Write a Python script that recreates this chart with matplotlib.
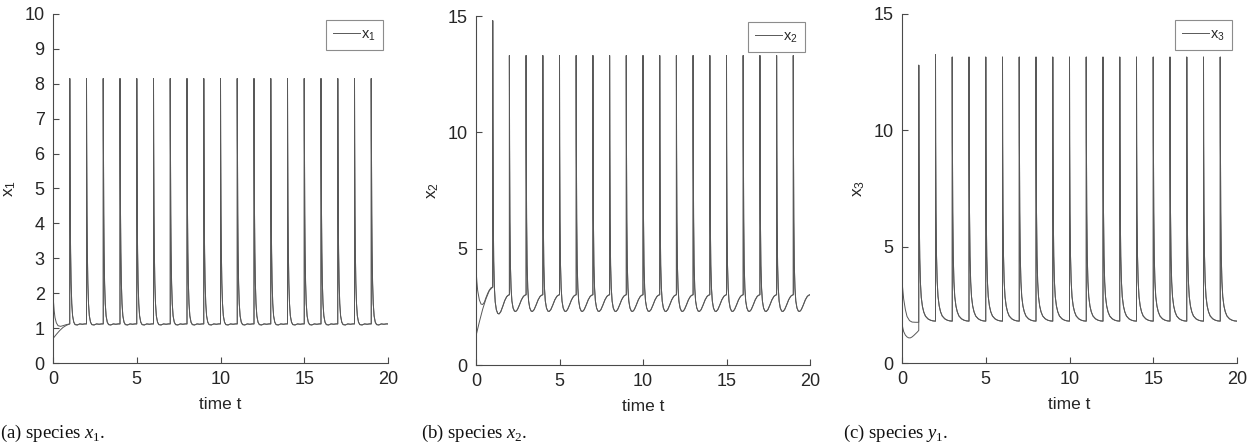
import numpy as np
import matplotlib
matplotlib.use("Agg")
import matplotlib.pyplot as plt

plt.rcParams['font.family'] = ['Liberation Sans', 'DejaVu Sans']
plt.rcParams['mathtext.fontset'] = 'custom'
plt.rcParams['mathtext.rm'] = 'Liberation Sans'
plt.rcParams['mathtext.it'] = 'Liberation Serif:italic'
plt.rcParams['mathtext.bf'] = 'Liberation Serif'
plt.rcParams['mathtext.default'] = 'rm'

# ---------------- data ----------------
spike_times = list(range(1, 20))          # impulses at t = 1..19, run ends at t = 20

# x1: one period after an impulse (offset within period, value)
x1_offsets = [0, 0.01, 0.03, 0.05, 0.08, 0.12, 0.17, 0.24, 0.32, 0.45, 0.6, 0.75, 0.9, 1.0]
x1_shape   = [8.15, 6.4, 4.3, 3.2, 2.3, 1.7, 1.35, 1.17, 1.10, 1.09, 1.12, 1.11, 1.12, 1.12]
x1_peaks   = [8.15] * 19
x1_initA_t = [0, 0.03, 0.07, 0.12, 0.2, 0.3, 0.45, 0.6, 0.8, 1.0]
x1_initA   = [2.0, 1.75, 1.5, 1.3, 1.15, 1.07, 1.05, 1.07, 1.1, 1.12]
x1_initB_t = [0, 0.2, 0.4, 0.6, 0.8, 1.0]
x1_initB   = [0.7, 0.82, 0.93, 1.02, 1.08, 1.12]

# x2
x2_offsets = [0, 0.01, 0.03, 0.06, 0.1, 0.15, 0.22, 0.3, 0.38, 0.48, 0.6, 0.72, 0.84, 0.93, 1.0]
x2_shape   = [13.3, 9.5, 6.3, 4.3, 3.3, 2.75, 2.45, 2.32, 2.3, 2.38, 2.58, 2.8, 2.95, 3.0, 3.02]
x2_peaks   = [14.8] + [13.3] * 18
x2_initA_t = [0, 0.05, 0.1, 0.2, 0.3, 0.4, 0.5, 0.6, 0.7, 0.8, 0.9, 1.0]
x2_initA   = [4.1, 3.6, 3.2, 2.8, 2.62, 2.6, 2.7, 2.9, 3.08, 3.22, 3.32, 3.35]
x2_initB_t = [0, 0.2, 0.4, 0.6, 0.8, 1.0]
x2_initB   = [1.25, 1.85, 2.4, 2.85, 3.2, 3.35]

# x3
x3_offsets = [0, 0.01, 0.03, 0.06, 0.1, 0.15, 0.22, 0.3, 0.4, 0.55, 0.7, 0.85, 1.0]
x3_shape   = [13.15, 9.5, 6.5, 4.6, 3.5, 2.85, 2.45, 2.2, 2.02, 1.9, 1.84, 1.81, 1.8]
x3_peaks   = [12.8, 13.25] + [13.15] * 17
x3_initA_t = [0, 0.05, 0.1, 0.2, 0.3, 0.45, 0.6, 0.8, 1.0]
x3_initA   = [3.5, 3.1, 2.75, 2.3, 2.0, 1.82, 1.76, 1.75, 1.75]
x3_initB_t = [0, 0.05, 0.1, 0.2, 0.3, 0.4, 0.5, 0.6, 0.7, 0.8, 0.9, 1.0]
x3_initB   = [1.7, 1.5, 1.35, 1.2, 1.12, 1.08, 1.08, 1.12, 1.18, 1.25, 1.32, 1.4]

panels = [
    dict(name='x$_1$', offs=x1_offsets, shape=x1_shape, peaks=x1_peaks,
         initA=(x1_initA_t, x1_initA), initB=(x1_initB_t, x1_initB),
         ylim=10, yticks=list(range(0, 11)), caption=r'(a) species $\mathit{x}_{\mathbf{1}}$.'),
    dict(name='x$_2$', offs=x2_offsets, shape=x2_shape, peaks=x2_peaks,
         initA=(x2_initA_t, x2_initA), initB=(x2_initB_t, x2_initB),
         ylim=15, yticks=[0, 5, 10, 15], caption=r'(b) species $\mathit{x}_{\mathbf{2}}$.'),
    dict(name='x$_3$', offs=x3_offsets, shape=x3_shape, peaks=x3_peaks,
         initA=(x3_initA_t, x3_initA), initB=(x3_initB_t, x3_initB),
         ylim=15, yticks=[0, 5, 10, 15], caption=r'(c) species $\mathit{y}_{\mathbf{1}}$.'),
]

W, H = 1259, 448
fig = plt.figure(figsize=(W / 100, H / 100), dpi=100)

ax_px = [(53, 388, 14, 363), (476, 810, 16, 365), (902, 1237, 14, 363)]
cap_x = [0, 421, 843]
line_col = '#585858'
txt_col = '#262626'

for p, (l, r, t, b), cx in zip(panels, ax_px, cap_x):
    ax = fig.add_axes([l / W, (H - b) / H, (r - l) / W, (b - t) / H])
    # build trajectories: initial part then impulsive periodic part
    def periodic(p):
        ts, vs = [], []
        for k, pk in zip(spike_times, p['peaks']):
            scale = (pk - p['shape'][-1]) / (p['shape'][0] - p['shape'][-1])
            for o, v in zip(p['offs'], p['shape']):
                ts.append(k + o)
                vs.append(p['shape'][-1] + (v - p['shape'][-1]) * scale)
        return ts, vs
    pt, pv = periodic(p)
    for idx, (it, iv) in enumerate((p['initA'], p['initB'])):
        ax.plot(list(it) + pt, list(iv) + pv, color=line_col, lw=0.7,
                label=p['name'] if idx == 0 else None)
    ax.set_xlim(0, 20)
    ax.set_ylim(0, p['ylim'])
    ax.set_xticks([0, 5, 10, 15, 20])
    ax.set_yticks(p['yticks'])
    for s in ('top', 'right'):
        ax.spines[s].set_visible(False)
    for s in ('left', 'bottom'):
        ax.spines[s].set_color('#4a4a4a')
        ax.spines[s].set_linewidth(0.8)
    ax.tick_params(direction='in', length=4, width=0.8, color='#4a4a4a',
                   labelsize=13, labelcolor=txt_col, pad=6)
    ax.set_xlabel('time t', fontsize=12.5, color=txt_col, labelpad=6)
    ax.set_ylabel(p['name'], fontsize=12.5, color=txt_col, labelpad=5)
    leg = ax.legend(loc='upper right', bbox_to_anchor=(1 - 5 / (r - l), 1 - 6 / (b - t)),
                    borderaxespad=0, fontsize=10.5, frameon=True, fancybox=False,
                    handlelength=1.8, handletextpad=0.1, borderpad=0.5)
    leg.get_frame().set_edgecolor('#707070')
    leg.get_frame().set_linewidth(0.8)
    for txt in leg.get_texts():
        txt.set_color(txt_col)
    fig.text(cx / W, 1 - 433 / H, p['caption'], family='Liberation Serif',
             fontsize=13.5, ha='left', va='center', color='#111111')

fig.savefig('out.png', dpi=100)
